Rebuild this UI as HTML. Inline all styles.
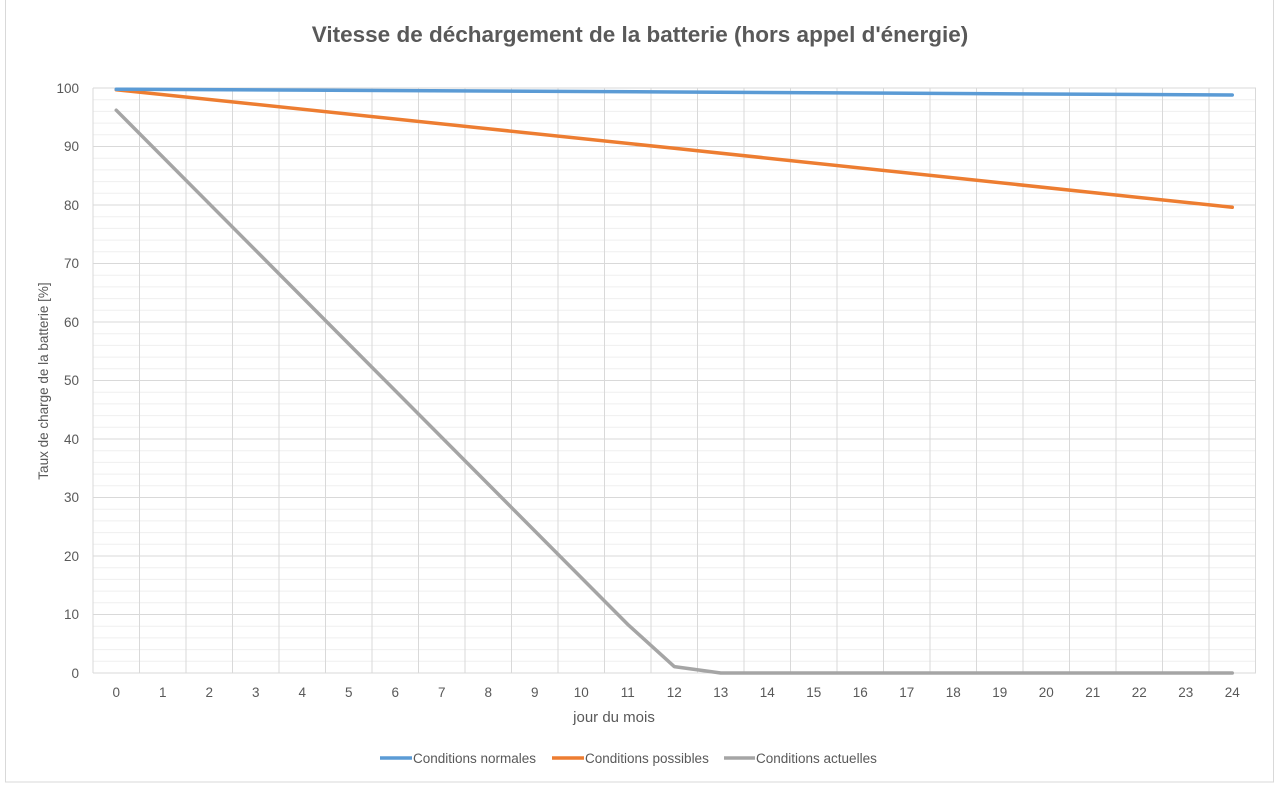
<!DOCTYPE html>
<html><head><meta charset="utf-8"><style>
html,body{margin:0;padding:0;background:#fff;}
svg{display:block;font-family:"Liberation Sans",sans-serif;}
</style></head><body>
<svg width="1280" height="785" viewBox="0 0 1280 785" xmlns="http://www.w3.org/2000/svg">
<rect x="0" y="0" width="1280" height="785" fill="#fff"/>
<rect x="5.5" y="-1" width="1268" height="783" fill="#fff" stroke="#d9d9d9"/>
<text x="640" y="42" text-anchor="middle" font-size="22.5" font-weight="bold" fill="#595959">Vitesse de déchargement de la batterie (hors appel d'énergie)</text>
<g stroke="#efefef" stroke-width="1">
<line x1="93" x2="1256" y1="99.7" y2="99.7"/><line x1="93" x2="1256" y1="111.4" y2="111.4"/><line x1="93" x2="1256" y1="123.1" y2="123.1"/><line x1="93" x2="1256" y1="134.8" y2="134.8"/>
<line x1="93" x2="1256" y1="158.2" y2="158.2"/><line x1="93" x2="1256" y1="169.9" y2="169.9"/><line x1="93" x2="1256" y1="181.6" y2="181.6"/><line x1="93" x2="1256" y1="193.3" y2="193.3"/>
<line x1="93" x2="1256" y1="216.7" y2="216.7"/><line x1="93" x2="1256" y1="228.4" y2="228.4"/><line x1="93" x2="1256" y1="240.1" y2="240.1"/><line x1="93" x2="1256" y1="251.8" y2="251.8"/>
<line x1="93" x2="1256" y1="275.2" y2="275.2"/><line x1="93" x2="1256" y1="286.9" y2="286.9"/><line x1="93" x2="1256" y1="298.6" y2="298.6"/><line x1="93" x2="1256" y1="310.3" y2="310.3"/>
<line x1="93" x2="1256" y1="333.7" y2="333.7"/><line x1="93" x2="1256" y1="345.4" y2="345.4"/><line x1="93" x2="1256" y1="357.1" y2="357.1"/><line x1="93" x2="1256" y1="368.8" y2="368.8"/>
<line x1="93" x2="1256" y1="392.2" y2="392.2"/><line x1="93" x2="1256" y1="403.9" y2="403.9"/><line x1="93" x2="1256" y1="415.6" y2="415.6"/><line x1="93" x2="1256" y1="427.3" y2="427.3"/>
<line x1="93" x2="1256" y1="450.7" y2="450.7"/><line x1="93" x2="1256" y1="462.4" y2="462.4"/><line x1="93" x2="1256" y1="474.1" y2="474.1"/><line x1="93" x2="1256" y1="485.8" y2="485.8"/>
<line x1="93" x2="1256" y1="509.2" y2="509.2"/><line x1="93" x2="1256" y1="520.9" y2="520.9"/><line x1="93" x2="1256" y1="532.6" y2="532.6"/><line x1="93" x2="1256" y1="544.3" y2="544.3"/>
<line x1="93" x2="1256" y1="567.7" y2="567.7"/><line x1="93" x2="1256" y1="579.4" y2="579.4"/><line x1="93" x2="1256" y1="591.1" y2="591.1"/><line x1="93" x2="1256" y1="602.8" y2="602.8"/>
<line x1="93" x2="1256" y1="626.2" y2="626.2"/><line x1="93" x2="1256" y1="637.9" y2="637.9"/><line x1="93" x2="1256" y1="649.6" y2="649.6"/><line x1="93" x2="1256" y1="661.3" y2="661.3"/>
</g>
<g stroke="#d9d9d9" stroke-width="1">
<line x1="93" x2="1256" y1="88" y2="88"/><line x1="93" x2="1256" y1="146.5" y2="146.5"/><line x1="93" x2="1256" y1="205" y2="205"/><line x1="93" x2="1256" y1="263.5" y2="263.5"/><line x1="93" x2="1256" y1="322" y2="322"/><line x1="93" x2="1256" y1="380.5" y2="380.5"/><line x1="93" x2="1256" y1="439" y2="439"/><line x1="93" x2="1256" y1="497.5" y2="497.5"/><line x1="93" x2="1256" y1="556" y2="556"/><line x1="93" x2="1256" y1="614.5" y2="614.5"/>
<line y1="88" y2="673" x1="93" x2="93"/><line y1="88" y2="673" x1="139.5" x2="139.5"/><line y1="88" y2="673" x1="186" x2="186"/><line y1="88" y2="673" x1="232.5" x2="232.5"/><line y1="88" y2="673" x1="279" x2="279"/><line y1="88" y2="673" x1="325.5" x2="325.5"/><line y1="88" y2="673" x1="372" x2="372"/><line y1="88" y2="673" x1="418.5" x2="418.5"/><line y1="88" y2="673" x1="465" x2="465"/><line y1="88" y2="673" x1="511.5" x2="511.5"/><line y1="88" y2="673" x1="558" x2="558"/><line y1="88" y2="673" x1="604.5" x2="604.5"/><line y1="88" y2="673" x1="651" x2="651"/><line y1="88" y2="673" x1="697.5" x2="697.5"/><line y1="88" y2="673" x1="744" x2="744"/><line y1="88" y2="673" x1="790.5" x2="790.5"/><line y1="88" y2="673" x1="837" x2="837"/><line y1="88" y2="673" x1="883.5" x2="883.5"/><line y1="88" y2="673" x1="930" x2="930"/><line y1="88" y2="673" x1="976.5" x2="976.5"/><line y1="88" y2="673" x1="1023" x2="1023"/><line y1="88" y2="673" x1="1069.5" x2="1069.5"/><line y1="88" y2="673" x1="1116" x2="1116"/><line y1="88" y2="673" x1="1162.5" x2="1162.5"/><line y1="88" y2="673" x1="1209" x2="1209"/><line y1="88" y2="673" x1="1255.5" x2="1255.5"/>
<line x1="93" x2="1256" y1="673" y2="673"/>
</g>
<g font-size="13.5" fill="#595959" text-anchor="end">
<text x="79" y="93">100</text><text x="79" y="151">90</text><text x="79" y="210">80</text><text x="79" y="268">70</text><text x="79" y="327">60</text><text x="79" y="385">50</text><text x="79" y="444">40</text><text x="79" y="502">30</text><text x="79" y="561">20</text><text x="79" y="619">10</text><text x="79" y="678">0</text>
</g>
<g font-size="13.5" fill="#595959" text-anchor="middle">
<text x="116.25" y="697">0</text><text x="162.75" y="697">1</text><text x="209.25" y="697">2</text><text x="255.75" y="697">3</text><text x="302.25" y="697">4</text><text x="348.75" y="697">5</text><text x="395.25" y="697">6</text><text x="441.75" y="697">7</text><text x="488.25" y="697">8</text><text x="534.75" y="697">9</text><text x="581.25" y="697">10</text><text x="627.75" y="697">11</text><text x="674.25" y="697">12</text><text x="720.75" y="697">13</text><text x="767.25" y="697">14</text><text x="813.75" y="697">15</text><text x="860.25" y="697">16</text><text x="906.75" y="697">17</text><text x="953.25" y="697">18</text><text x="999.75" y="697">19</text><text x="1046.25" y="697">20</text><text x="1092.75" y="697">21</text><text x="1139.25" y="697">22</text><text x="1185.75" y="697">23</text><text x="1232.25" y="697">24</text>
<text x="614" y="722" font-size="15">jour du mois</text>
<text transform="translate(48,381) rotate(-90)" font-size="13.5">Taux de charge de la batterie [%]</text>
</g>
<g fill="none" stroke-width="3.5" stroke-linecap="round" stroke-linejoin="round">
<polyline stroke="#a5a5a5" points="116.25,110.2 627.75,624.4 674.25,666.6 720.75,673 1232.25,673"/>
<polyline stroke="#ed7d31" points="116.25,89.7 674.25,148.3 1232.25,207.3"/>
<polyline stroke="#5b9bd5" points="116.25,89.2 674.25,92 1232.25,95"/>
</g>
<g stroke-width="3.5">
<line x1="380" x2="412" y1="758" y2="758" stroke="#5b9bd5"/>
<line x1="552" x2="584" y1="758" y2="758" stroke="#ed7d31"/>
<line x1="724" x2="755" y1="758" y2="758" stroke="#a5a5a5"/>
</g>
<g font-size="13.5" fill="#595959">
<text x="413" y="763">Conditions normales</text>
<text x="585" y="763">Conditions possibles</text>
<text x="756" y="763">Conditions actuelles</text>
</g>
</svg>
</body></html>
